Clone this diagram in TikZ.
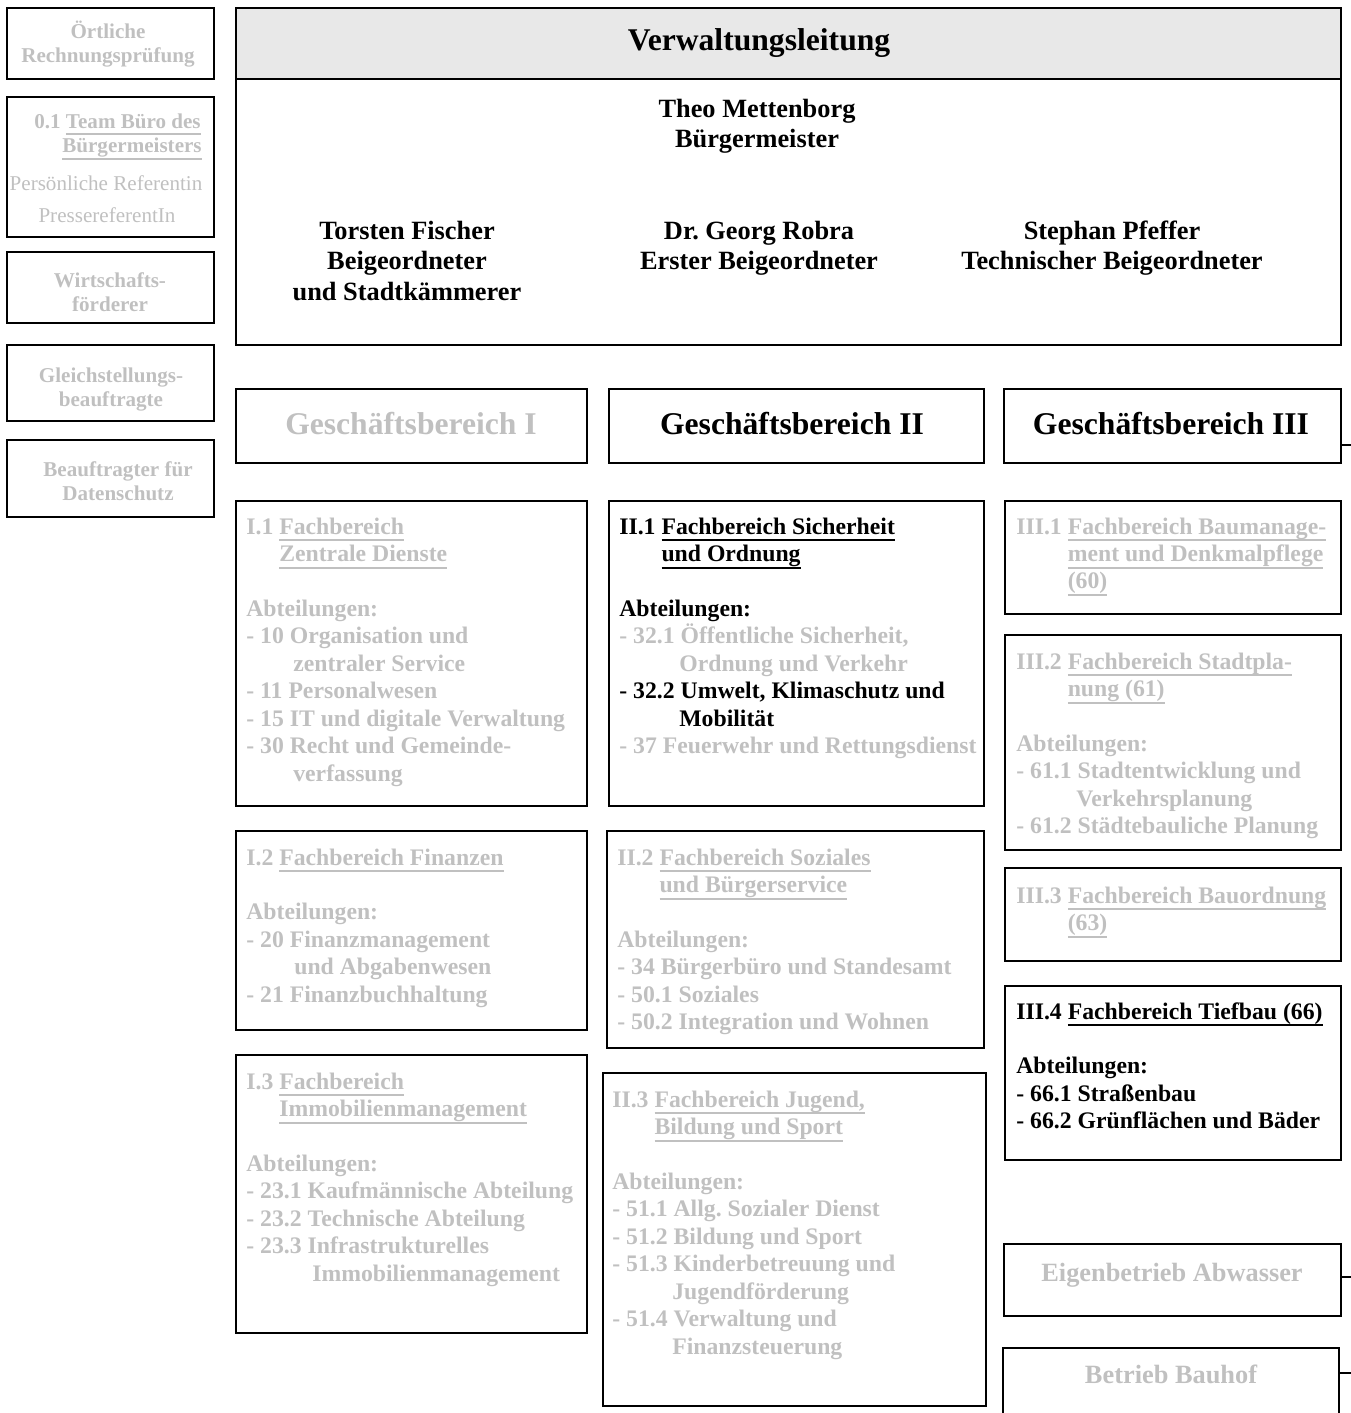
\documentclass[tikz,border=0pt]{standalone}
\usepackage{fontspec}
\setmainfont{Liberation Serif}
\usetikzlibrary{fit}
\definecolor{lg}{HTML}{C0C0C0}
\definecolor{hdr}{HTML}{E8E8E8}
\frenchspacing
\newsavebox\ulbox
\newcommand\uline[1]{\sbox\ulbox{#1}\rlap{\rule[-4.2pt]{\wd\ulbox}{1.1pt}}\usebox\ulbox}
\newcommand\bxl[1]{\parbox[t]{9cm}{\raggedright\frenchspacing #1}}
\newcommand\bxc[1]{\parbox[t]{9cm}{\centering\frenchspacing #1}}
\tikzset{
  frame/.style={draw=black, line width=1.1pt, inner sep=0pt, rectangle},
  body/.style={anchor=base west, inner sep=0pt, font=\bfseries\fontsize{13.5}{15.64}\selectfont},
  side/.style={anchor=base, inner sep=0pt, text=lg, font=\bfseries\fontsize{12}{14.1}\selectfont},
  names/.style={anchor=base, inner sep=0pt, font=\bfseries\fontsize{15}{17.6}\selectfont},
  big/.style={anchor=base, inner sep=0pt, font=\bfseries\fontsize{18}{21}\selectfont},
  conn/.style={draw=black, line width=1.1pt},
}
\begin{document}
\begin{tikzpicture}[x=0.02cm, y=-0.02cm]
\useasboundingbox (0,0) rectangle (1350,1413);

% ---------- left column ----------
\node[frame, fit={(7,8) (214,79)}] (s1) {};
\node[frame, fit={(7,97) (214,237)}] (s2) {};
\node[frame, fit={(7,252) (214,323)}] (s3) {};
\node[frame, fit={(7,345) (214,421)}] (s4) {};
\node[frame, fit={(7,440) (214,517)}] (s5) {};

\node[side] (s1t) at (108,38) {\bxc{Örtliche\\Rechnungsprüfung}};
\node[side, anchor=base west] (s2t) at (34,128) {\bxl{0.1 \uline{Team Büro des}\\\hspace*{0.56cm}\uline{Bürgermeisters}}};
\node[side, font=\fontsize{12}{14.1}\selectfont] (s2a) at (106,190) {Persönliche Referentin};
\node[side, font=\fontsize{12}{14.1}\selectfont] (s2b) at (107,222) {PressereferentIn};
\node[side] (s3t) at (110,287) {\bxc{Wirtschafts-\\förderer}};
\node[side] (s4t) at (111,382) {\bxc{Gleichstellungs-\\beauftragte}};
\node[side] (s5t) at (118,476) {\bxc{Beauftragter für\\Datenschutz}};

% ---------- top box ----------
\node[frame, line width=1.3pt, fit={(236,8) (1341,345)}] (vl) {};
\node[frame, line width=1.3pt, fill=hdr, fit={(236,8) (1341,79)}] (vlh) {};
\node[big] (vlt) at (759,51) {Verwaltungsleitung};
\node[names] (bm) at (757,117) {\bxc{Theo Mettenborg\\Bürgermeister}};
\node[names] (tf) at (407,239) {\bxc{Torsten Fischer\\Beigeordneter\\und Stadtkämmerer}};
\node[names] (gr) at (759,239) {\bxc{Dr. Georg Robra\\Erster Beigeordneter}};
\node[names] (sp) at (1112,239) {\bxc{Stephan Pfeffer\\Technischer Beigeordneter}};

% ---------- Geschäftsbereiche ----------
\node[frame, fit={(236,389) (587,463)}] (g1) {};
\node[frame, fit={(609,389) (984,463)}] (g2) {};
\node[frame, fit={(1004,389) (1341,463)}] (g3) {};
\node[big, text=lg] (g1t) at (411,434) {Geschäftsbereich I};
\node[big] (g2t) at (792,434) {Geschäftsbereich II};
\node[big] (g3t) at (1171,434) {Geschäftsbereich III};

% ---------- column I ----------
\node[frame, fit={(236,501) (587,806)}] (f11) {};
\node[frame, fit={(236,831) (587,1030)}] (f12) {};
\node[frame, fit={(236,1055) (587,1333)}] (f13) {};

\node[body, text=lg] (f11t) at (246,534) {\bxl{I.1 \uline{Fachbereich}\\
\hphantom{I.1 }\uline{Zentrale Dienste}\\[\baselineskip]
Abteilungen:\\
- 10 Organisation und\\
\hspace*{0.94cm}zentraler Service\\
- 11 Personalwesen\\
- 15 IT und digitale Verwaltung\\
- 30 Recht und Gemeinde-\\
\hspace*{0.94cm}verfassung}};

\node[body, text=lg] (f12t) at (246,865) {\bxl{I.2 \uline{Fachbereich Finanzen}\\[\baselineskip]
Abteilungen:\\
- 20 Finanzmanagement\\
\hspace*{0.96cm}und Abgabenwesen\\
- 21 Finanzbuchhaltung}};

\node[body, text=lg] (f13t) at (246,1089) {\bxl{I.3 \uline{Fachbereich}\\
\hphantom{I.3 }\uline{Immobilienmanagement}\\[\baselineskip]
Abteilungen:\\
- 23.1 Kaufmännische Abteilung\\
- 23.2 Technische Abteilung\\
- 23.3 Infrastrukturelles\\
\hspace*{1.32cm}Immobilienmanagement}};

% ---------- column II ----------
\node[frame, fit={(609,501) (984,806)}] (f21) {};
\node[frame, fit={(607,831) (984,1048)}] (f22) {};
\node[frame, fit={(603,1073) (986,1406)}] (f23) {};

\node[body] (f21t) at (619,534) {\bxl{II.1 \uline{Fachbereich Sicherheit}\\
\hphantom{II.1 }\uline{und Ordnung}\\[\baselineskip]
Abteilungen:\\
{\color{lg}- 32.1 Öffentliche Sicherheit,}\\
{\color{lg}\hspace*{1.2cm}Ordnung und Verkehr}\\
- 32.2 Umwelt, Klimaschutz und\\
\hspace*{1.2cm}Mobilität\\
{\color{lg}- 37 Feuerwehr und Rettungsdienst}}};

\node[body, text=lg] (f22t) at (617,865) {\bxl{II.2 \uline{Fachbereich Soziales}\\
\hphantom{II.2 }\uline{und Bürgerservice}\\[\baselineskip]
Abteilungen:\\
- 34 Bürgerbüro und Standesamt\\
- 50.1 Soziales\\
- 50.2 Integration und Wohnen}};

\node[body, text=lg] (f23t) at (612,1107) {\bxl{II.3 \uline{Fachbereich Jugend,}\\
\hphantom{II.3 }\uline{Bildung und Sport}\\[\baselineskip]
Abteilungen:\\
- 51.1 Allg. Sozialer Dienst\\
- 51.2 Bildung und Sport\\
- 51.3 Kinderbetreuung und\\
\hspace*{1.2cm}Jugendförderung\\
- 51.4 Verwaltung und\\
\hspace*{1.2cm}Finanzsteuerung}};

% ---------- column III ----------
\node[frame, fit={(1005,501) (1341,614)}] (f31) {};
\node[frame, fit={(1005,635) (1341,850)}] (f32) {};
\node[frame, fit={(1005,868) (1341,961)}] (f33) {};
\node[frame, fit={(1005,986) (1341,1160)}] (f34) {};
\node[frame, fit={(1004,1244) (1341,1316)}] (eb) {};
\node[frame, fit={(1003,1348) (1339,1430)}] (bh) {};

\node[body, text=lg] (f31t) at (1016,534) {\bxl{III.1 \uline{Fachbereich Baumanage-}\\
\hphantom{III.1 }\uline{ment und Denkmalpflege}\\
\hphantom{III.1 }\uline{(60)}}};

\node[body, text=lg] (f32t) at (1016,669) {\bxl{III.2 \uline{Fachbereich Stadtpla-}\\
\hphantom{III.2 }\uline{nung (61)}\\[\baselineskip]
Abteilungen:\\
- 61.1 Stadtentwicklung und\\
\hspace*{1.2cm}Verkehrsplanung\\
- 61.2 Städtebauliche Planung}};

\node[body, text=lg] (f33t) at (1016,903) {\bxl{III.3 \uline{Fachbereich Bauordnung}\\
\hphantom{III.3 }\uline{(63)}}};

\node[body] (f34t) at (1016,1019) {\bxl{III.4 \uline{Fachbereich Tiefbau (66)}\\[\baselineskip]
Abteilungen:\\
- 66.1 Straßenbau\\
- 66.2 Grünflächen und Bäder}};

\node[big, text=lg, font=\bfseries\fontsize{15}{17}\selectfont] (ebt) at (1172,1281) {Eigenbetrieb Abwasser};
\node[big, text=lg, font=\bfseries\fontsize{15}{17}\selectfont] (bht) at (1171,1383) {Betrieb Bauhof};

% ---------- stubs to the right ----------
\coordinate (r1) at (1352,445);
\coordinate (r2) at (1352,1277);
\coordinate (r3) at (1352,1373);
\draw[conn] (g3.east |- r1) -- (r1);
\draw[conn] (eb.east |- r2) -- (r2);
\draw[conn] (bh.east |- r3) -- (r3);
\end{tikzpicture}
\end{document}
